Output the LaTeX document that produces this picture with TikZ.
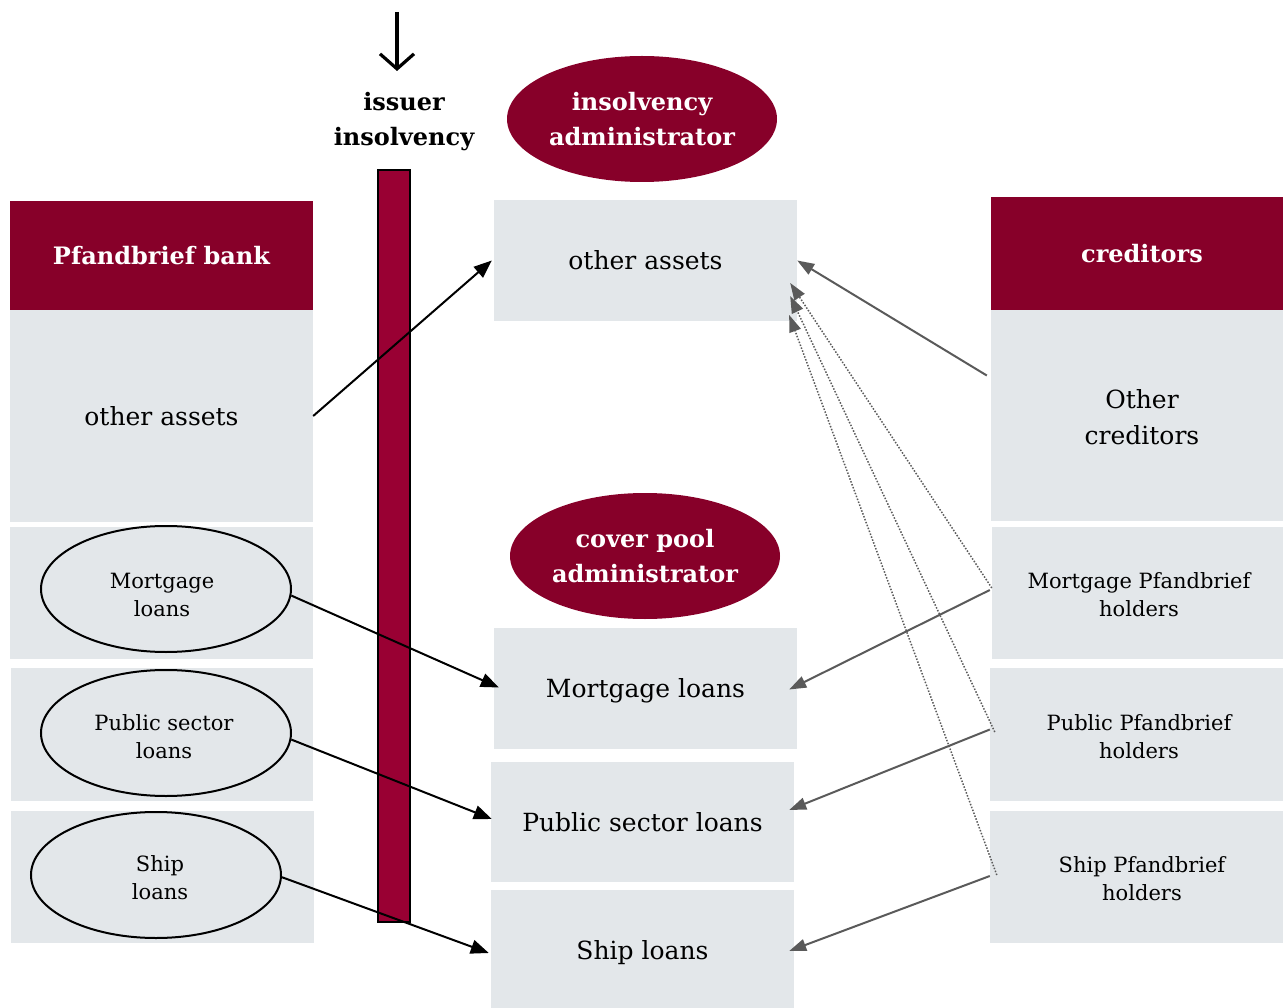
\documentclass[tikz,border=0pt]{standalone}
\usepackage{fontspec}
\setmainfont{DejaVu Serif}
\usetikzlibrary{arrows.meta,shapes.geometric,calc}
\definecolor{darkred}{HTML}{870029}
\definecolor{barred}{HTML}{990033}
\definecolor{boxgrey}{HTML}{E3E7EA}
\definecolor{arrgrey}{HTML}{5A5A5A}
\begin{document}
\begin{tikzpicture}[x=1pt,y=-1pt,
  greybox/.style={fill=boxgrey,draw=none,inner sep=0pt,align=center,font=\fontsize{25}{36}\selectfont},
  smallbox/.style={fill=boxgrey,draw=none,inner sep=0pt,align=center,font=\fontsize{21}{28}\selectfont},
  headbox/.style={fill=darkred,draw=none,inner sep=0pt,align=center,text=white,font=\bfseries\fontsize{24}{35}\selectfont},
  loanell/.style={ellipse,fill=boxgrey,draw=black,line width=2pt,inner sep=0pt,minimum width=250pt,minimum height=126pt},
  bigtext/.style={align=center,font=\fontsize{25}{36}\selectfont},
  smalltext/.style={align=center,font=\fontsize{21}{28}\selectfont},
  admell/.style={ellipse,fill=darkred,draw=none,inner sep=0pt,minimum width=270pt,minimum height=126pt,align=center,text=white,font=\bfseries\fontsize{24}{35}\selectfont},
  blackarr/.style={-{Triangle[length=18pt,width=14pt]},line width=2pt,black},
  greyarr/.style={-{Triangle[length=17pt,width=12pt]},line width=2pt,arrgrey},
  dotarr/.style={-{Triangle[length=17pt,width=12pt]},line width=1.5pt,arrgrey,dash pattern=on 1.5pt off 1.6pt}]
\useasboundingbox (0,0) rectangle (1283,1008);
% left column
\node[headbox,minimum width=303pt,minimum height=109pt] (lhead) at (161.5,255.5) {Pfandbrief bank};
\node[greybox,minimum width=303pt,minimum height=212pt] (lother) at (161.5,416) {other assets};
\node[smallbox,minimum width=303pt,minimum height=132pt] (lmort) at (161.5,593) {};
\node[smallbox,minimum width=302pt,minimum height=133pt] (lpub) at (162,734.5) {};
\node[smallbox,minimum width=303pt,minimum height=132pt] (lship) at (162.5,877) {};
\node[loanell] (emort) at (166,589) {};
\node[loanell] (epub) at (166,733) {};
\node[loanell] (eship) at (156,875) {};
\node[smalltext] (emortt) at (162,595) {Mortgage\\loans};
\node[smalltext] (epubt) at (164,737) {Public sector\\loans};
\node[smalltext] (eshipt) at (160,878) {Ship\\loans};
% bar
\node[fill=barred,draw=black,line width=2pt,minimum width=32pt,minimum height=752pt,inner sep=0pt] (bar) at (394,546) {};
\coordinate (atop) at (397,12);
\coordinate (abot) at (397,71);
\draw[-{Straight Barb[length=15pt,width=34pt]},line width=3.2pt] (atop) -- (abot);
\node[align=center,font=\bfseries\fontsize{24}{35}\selectfont] (issuer) at (404,122) {issuer\\insolvency};
% middle
\node[admell] (insadm) at (642,119) {insolvency\\administrator};
\node[greybox,minimum width=303pt,minimum height=121pt] (mother) at (645.5,260.5) {other assets};
\node[admell] (cpadm) at (645,556) {cover pool\\administrator};
\node[greybox,minimum width=303pt,minimum height=121pt] (mmort) at (645.5,688.5) {};
\node[bigtext] (mmortt) at (645.5,691) {Mortgage loans};
\node[greybox,minimum width=303pt,minimum height=120pt] (mpub) at (642.5,822) {Public sector loans};
\node[greybox,minimum width=303pt,minimum height=118pt] (mship) at (642.5,949) {};
\node[bigtext] (mshipt) at (642.5,953) {Ship loans};
% right column
\node[headbox,minimum width=292pt,minimum height=113pt] (rhead) at (1137,253.5) {\hspace*{10pt}creditors};
\node[greybox,minimum width=292pt,minimum height=211pt] (rother) at (1137,415.5) {};
\node[bigtext] (rothert) at (1142,417) {Other\\creditors};
\node[smallbox,minimum width=291pt,minimum height=132pt] (rmort) at (1137.5,593) {};
\node[smalltext] (rmortt) at (1139,595) {Mortgage Pfandbrief\\holders};
\node[smallbox,minimum width=293pt,minimum height=133pt] (rpub) at (1136.5,734.5) {};
\node[smalltext] (rpubt) at (1139,737) {Public Pfandbrief\\holders};
\node[smallbox,minimum width=293pt,minimum height=132pt] (rship) at (1136.5,877) {};
\node[smalltext] (rshipt) at (1142,879) {Ship Pfandbrief\\holders};
% black arrows
\draw[blackarr] (lother.east) -- ([xshift=-2pt]mother.west);
\draw[blackarr] (emort.-3) -- ([xshift=5pt,yshift=1pt]mmort.west);
\draw[blackarr] (epub.-3) -- ([xshift=1pt,yshift=3pt]mpub.west);
\draw[blackarr] (eship.-1) -- ([xshift=-2pt,yshift=-4pt]mship.west);
% grey arrows
\draw[greyarr] ([xshift=-4pt,yshift=40pt]rother.west) -- (mother.east);
\draw[greyarr] ([xshift=-2pt,yshift=3pt]rmort.west) -- ([xshift=-8pt,yshift=-1pt]mmort.east);
\draw[greyarr] ([yshift=5pt]rpub.west) -- ([xshift=-5pt,yshift=12pt]mpub.east);
\draw[greyarr] ([yshift=1pt]rship.west) -- ([xshift=-5pt,yshift=-2pt]mship.east);
% dotted arrows
\draw[dotarr] ([xshift=0pt,yshift=5pt]rmort.west) -- ([xshift=-7pt,yshift=-22.5pt]mother.east);
\draw[dotarr] ([xshift=5pt,yshift=2.5pt]rpub.west) -- ([xshift=-7pt,yshift=-35.5pt]mother.east);
\draw[dotarr] ([xshift=7pt,yshift=2pt]rship.west) -- ([xshift=-8pt,yshift=-54.5pt]mother.east);
\end{tikzpicture}
\end{document}
